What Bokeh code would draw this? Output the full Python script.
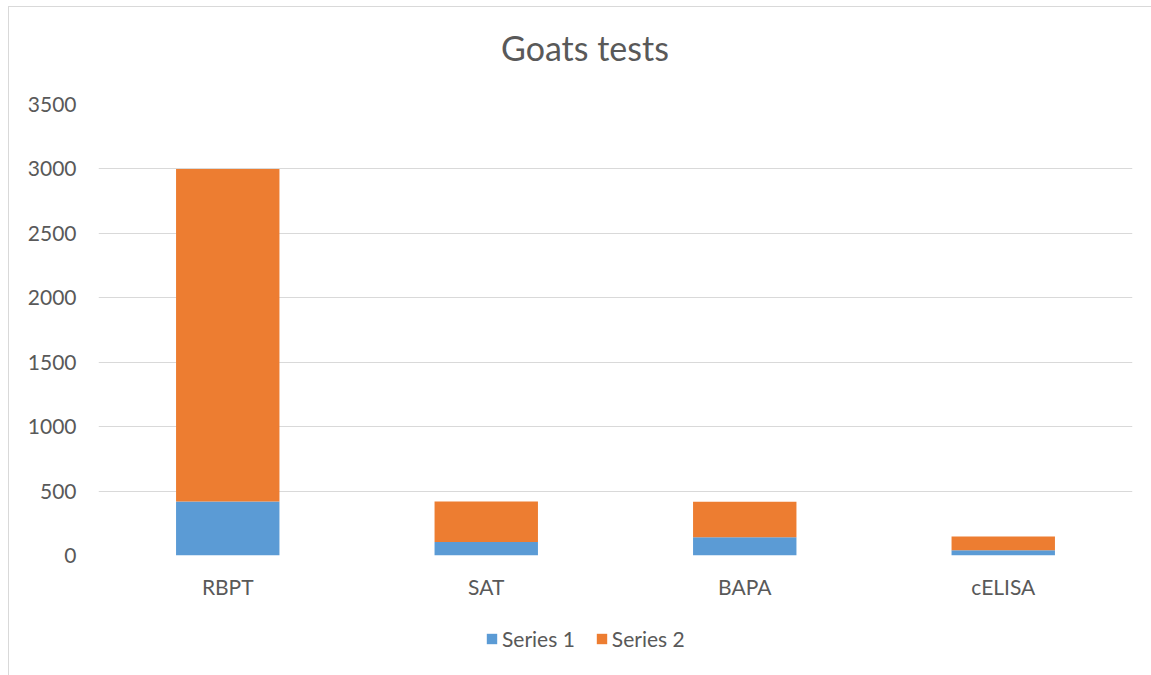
from bokeh.plotting import figure
from bokeh.layouts import column
from bokeh.models import ColumnDataSource, FactorRange, Range1d, SingleIntervalTicker, Div
from bokeh.embed import file_html
from bokeh.resources import INLINE

# Goat serology results per test
tests = ["RBPT", "SAT", "BAPA", "cELISA"]
series_1 = [420, 105, 142, 41]
series_2 = [2580, 315, 275, 106]
series_names = ["Series 1", "Series 2"]
colors = ["#5B9BD5", "#ED7D31"]

FONT = "Lato"
TEXT = "#595959"
GRID = "#D9D9D9"
WIDTH = 1142

source = ColumnDataSource(data={"tests": tests, "Series 1": series_1, "Series 2": series_2})

# chart title as a header row
header = Div(
    text="Goats tests", width=WIDTH - 10, height=72,
    styles={"font-family": FONT, "font-size": "34px", "color": TEXT,
            "line-height": "72px", "padding-left": "487px", "white-space": "nowrap"},
)

p = figure(
    x_range=FactorRange(*tests, range_padding=0),
    y_range=Range1d(0, 3500),
    width=WIDTH, height=516,
    output_backend="svg", toolbar_location=None,
    min_border_left=89, min_border_right=19,
    min_border_top=15, min_border_bottom=50,
    outline_line_color=None,
)

p.vbar_stack(series_names, x="tests", width=0.4, source=source,
             color=colors, line_color=None)

# axes
p.yaxis.ticker = SingleIntervalTicker(interval=500)
for ax in (p.xaxis[0], p.yaxis[0]):
    ax.axis_line_color = None
    ax.major_tick_line_color = None
    ax.minor_tick_line_color = None
    ax.major_tick_out = 0
    ax.major_label_text_font = FONT
    ax.major_label_text_font_size = "21px"
    ax.major_label_text_color = TEXT
p.yaxis.major_label_standoff = 18
p.xaxis.major_label_standoff = 18

p.xgrid.grid_line_color = None
p.ygrid.grid_line_color = GRID
p.ygrid.grid_line_width = 1

# legend strip under the chart (swatch-only renderers, nothing plotted)
leg = figure(
    x_range=Range1d(0, 1), y_range=Range1d(0, 1),
    width=WIDTH, height=70,
    output_backend="svg", toolbar_location=None,
    min_border=0, outline_line_color=None,
)
leg.axis.visible = False
leg.grid.visible = False
for name, c in zip(series_names, colors):
    leg.vbar(x=[float("nan")], top=[float("nan")], width=0.4,
             color=c, line_color=None, legend_label=name)
lg = leg.legend[0]
lg.orientation = "horizontal"
lg.location = (387, 24)
lg.label_text_font = FONT
lg.label_text_font_size = "21px"
lg.label_text_color = TEXT
lg.glyph_width = 13
lg.glyph_height = 13
lg.label_standoff = 4
lg.spacing = 20
lg.border_line_color = None
lg.background_fill_alpha = 0
lg.margin = 0
lg.padding = 0

layout = column(header, p, leg, spacing=0, margin=(6, 0, 0, 8),
                styles={"border-left": f"1px solid {GRID}", "border-top": f"1px solid {GRID}"})

open("out.html", "w").write(file_html(layout, INLINE))
